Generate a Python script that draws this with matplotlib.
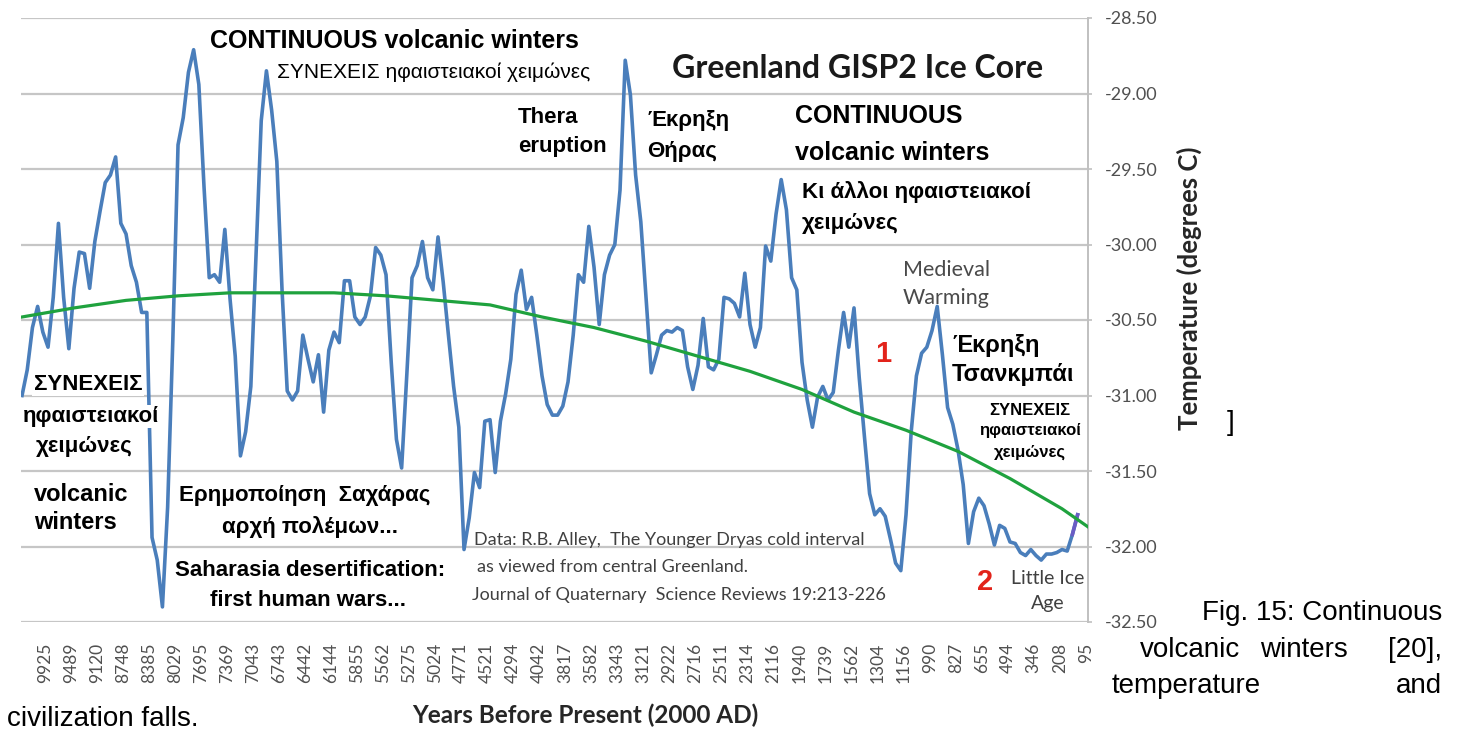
import numpy as np
import matplotlib
matplotlib.use("Agg")
import matplotlib.pyplot as plt

W, H = 1459, 731

# ---------------- data ----------------
temperature = [
    -31.00, -30.83, -30.55, -30.41, -30.58, -30.68, -30.35, -29.86, -30.35, -30.69,
    -30.29, -30.05, -30.06, -30.29, -29.98, -29.78, -29.59, -29.54, -29.42, -29.86,
    -29.93, -30.14, -30.25, -30.45, -30.45, -31.94, -32.09, -32.40, -31.74, -30.63,
    -29.34, -29.16, -28.86, -28.71, -28.94, -29.62, -30.22, -30.20, -30.25, -29.90,
    -30.36, -30.74, -31.40, -31.24, -30.94, -30.07, -29.18, -28.85, -29.11, -29.45,
    -30.30, -30.97, -31.03, -30.97, -30.60, -30.76, -30.91, -30.73, -31.11, -30.70,
    -30.58, -30.65, -30.24, -30.24, -30.48, -30.53, -30.48, -30.34, -30.02, -30.07,
    -30.20, -30.78, -31.29, -31.48, -30.86, -30.22, -30.14, -29.98, -30.22, -30.30,
    -29.95, -30.25, -30.60, -30.94, -31.21, -32.02, -31.81, -31.51, -31.61, -31.17,
    -31.16, -31.51, -31.17, -30.99, -30.76, -30.33, -30.17, -30.43, -30.35, -30.60,
    -30.87, -31.06, -31.13, -31.13, -31.07, -30.91, -30.60, -30.20, -30.25, -29.88,
    -30.15, -30.53, -30.20, -30.07, -30.00, -29.64, -28.78, -29.01, -29.54, -29.85,
    -30.35, -30.85, -30.73, -30.60, -30.57, -30.58, -30.55, -30.57, -30.81, -30.96,
    -30.80, -30.49, -30.81, -30.83, -30.76, -30.35, -30.36, -30.39, -30.48, -30.19,
    -30.53, -30.68, -30.55, -30.01, -30.11, -29.80, -29.57, -29.77, -30.22, -30.30,
    -30.78, -31.03, -31.21, -31.01, -30.94, -31.03, -30.98, -30.70, -30.45, -30.68,
    -30.42, -30.88, -31.27, -31.65, -31.79, -31.75, -31.80, -31.95, -32.11, -32.16,
    -31.79, -31.24, -30.87, -30.72, -30.68, -30.57, -30.41, -30.73, -31.08, -31.19,
    -31.36, -31.59, -31.98, -31.77, -31.68, -31.73, -31.85, -31.99, -31.86, -31.88,
    -31.97, -31.98, -32.04, -32.06, -32.02, -32.06, -32.09, -32.05, -32.05, -32.04,
    -32.02, -32.03, -31.92, -31.79,
]

trend_index = [0, 10, 20, 30, 40, 50, 60, 70, 80, 90, 100, 110, 120, 130, 140,
               150, 160, 170, 180, 190, 200, 205]
trend_values = [-30.48, -30.42, -30.37, -30.34, -30.32, -30.32, -30.32, -30.34,
                -30.37, -30.40, -30.48, -30.55, -30.64, -30.74, -30.84, -30.96,
                -31.11, -31.23, -31.37, -31.55, -31.75, -31.87]

year_labels = ['9925', '9489', '9120', '8748', '8385', '8029', '7695', '7369',
               '7043', '6743', '6442', '6144', '5855', '5562', '5275', '5024',
               '4771', '4521', '4294', '4042', '3817', '3582', '3343', '3121',
               '2922', '2716', '2511', '2314', '2116', '1940', '1739', '1562',
               '1304', '1156', '990', '827', '655', '494', '346', '208', '95']

y_ticks = [-32.5, -32.0, -31.5, -31.0, -30.5, -30.0, -29.5, -29.0, -28.5]

# ---------------- figure ----------------
fig = plt.figure(figsize=(W / 100, H / 100), dpi=100)
ax = fig.add_axes([21 / W, 1 - 622 / H, (1088 - 21) / W, (622 - 18) / H])

n = len(temperature)
xs = np.arange(n)
ax.plot(xs, temperature, color='#4a7ebb', lw=2.6, zorder=3,
        solid_joinstyle='round')
ax.plot(xs[-2:], temperature[-2:], color='#6a5cc4', lw=2.6, zorder=3)
ax.plot(trend_index, trend_values, color='#1fa23e', lw=2.3, zorder=4)

ax.set_ylim(-32.5, -28.5)
ax.set_xlim(-0.2, 205.0)
ax.set_yticks(y_ticks)
ax.set_yticklabels(['%.2f' % v for v in y_ticks])
ax.yaxis.tick_right()
ax.grid(axis='y', color='#c6c6c6', lw=1.6, zorder=0)
for s in ['left', 'top', 'bottom']:
    ax.spines[s].set_visible(False)
ax.spines['right'].set_color('#c0c0c0')
ax.spines['right'].set_linewidth(1.4)
ax.tick_params(axis='y', direction='out', length=3, width=1.2, color='#c0c0c0',
               pad=9, labelsize=13, labelcolor='#505050')
for t in ax.get_yticklabels():
    t.set_family('Lato')

tick_pos = 4.35 + 5.006 * np.arange(len(year_labels))
ax.set_xticks(tick_pos)
ax.set_xticklabels(year_labels, rotation=90, family='Lato', fontsize=12.5,
                   color='#505050')
ax.tick_params(axis='x', length=0, pad=15)


def T(x, y, s, **kw):
    kw.setdefault('va', 'baseline')
    fig.text(x / W, 1 - y / H, s, **kw)


GR = ['Liberation Sans', 'DejaVu Sans']
LA = ['Lato', 'DejaVu Sans']

# axis titles
T(585, 723, 'Years Before Present (2000 AD)', family=LA, fontsize=17.5,
  fontweight='bold', ha='center', color='#262626')
fig.text(1189 / W, 1 - 288 / H, 'Temperature (degrees C)', family=LA,
         fontsize=18.5, fontweight='bold', rotation=90, ha='center',
         va='center', color='#262626')

# annotations
T(210, 48, 'CONTINUOUS volcanic winters', family=GR, fontsize=18, fontweight='bold')
T(277, 78, 'ΣΥΝΕΧΕΙΣ ηφαιστειακοί χειμώνες', family=GR, fontsize=15)
T(672, 78, 'Greenland GISP2 Ice Core', family=LA, fontsize=23, fontweight='bold',
  color='#1a1a1a')
T(518, 123, 'Thera', family=GR, fontsize=16, fontweight='bold')
T(518, 152, 'eruption', family=GR, fontsize=16, fontweight='bold')
T(647, 126, 'Έκρηξη', family=GR, fontsize=16, fontweight='bold')
T(647, 157, 'Θήρας', family=GR, fontsize=16, fontweight='bold')
T(795, 123, 'CONTINUOUS', family=GR, fontsize=18, fontweight='bold')
T(795, 160, 'volcanic winters', family=GR, fontsize=18, fontweight='bold')
T(802, 198, 'Κι άλλοι ηφαιστειακοί', family=GR, fontsize=16, fontweight='bold')
T(802, 229, 'χειμώνες', family=GR, fontsize=16, fontweight='bold')
T(903, 276, 'Medieval', family=LA, fontsize=15.5, color='#4a4a4a')
T(903, 304, 'Warming', family=LA, fontsize=15.5, color='#4a4a4a')
T(875, 362, '1', family=GR, fontsize=21, fontweight='bold', color='#e2231a')
T(952, 352, 'Έκρηξη', family=GR, fontsize=17, fontweight='bold')
T(952, 381, 'Τσανκμπάι', family=GR, fontsize=17, fontweight='bold')
T(1030, 415, 'ΣΥΝΕΧΕΙΣ', family=GR, fontsize=12, fontweight='bold', ha='center')
T(1030, 435, 'ηφαιστειακοί', family=GR, fontsize=12, fontweight='bold', ha='center')
T(1030, 457, 'χειμώνες', family=GR, fontsize=12, fontweight='bold', ha='center')
T(977, 590, '2', family=GR, fontsize=21, fontweight='bold', color='#e2231a')
T(1048, 584, 'Little Ice', family=LA, fontsize=14, ha='center', color='#404040')
T(1048, 609, 'Age', family=LA, fontsize=14, ha='center', color='#404040')

T(88, 390, 'ΣΥΝΕΧΕΙΣ', family=GR, fontsize=16, fontweight='bold', ha='center',
  bbox=dict(fc='white', ec='none', pad=1))
T(91, 422, 'ηφαιστειακοί', family=GR, fontsize=16, fontweight='bold', ha='center',
  bbox=dict(fc='white', ec='none', pad=1))
T(84, 452, 'χειμώνες', family=GR, fontsize=16, fontweight='bold', ha='center',
  bbox=dict(fc='white', ec='none', pad=1))
T(34, 501, 'volcanic', family=GR, fontsize=17, fontweight='bold')
T(34, 529, 'winters', family=GR, fontsize=17, fontweight='bold')
T(305, 501, 'Ερημοποίηση  Σαχάρας', family=GR, fontsize=16, fontweight='bold', ha='center')
T(310, 533, 'αρχή πολέμων...', family=GR, fontsize=16, fontweight='bold', ha='center')
T(310, 576, 'Saharasia desertification:', family=GR, fontsize=16, fontweight='bold',
  ha='center')
T(308, 606, 'first human wars...', family=GR, fontsize=16, fontweight='bold', ha='center')

T(474, 545, 'Data: R.B. Alley,  The Younger Dryas cold interval', family=LA,
  fontsize=13, color='#404040')
T(477, 572, 'as viewed from central Greenland.', family=LA, fontsize=13,
  color='#404040')
T(472, 600, 'Journal of Quaternary  Science Reviews 19:213-226', family=LA,
  fontsize=13, color='#404040')

# caption text around the figure
CAP = dict(family=['Liberation Sans', 'DejaVu Sans'], fontsize=20, color='black')
T(1227, 430, ']', **CAP)
T(1442, 620, 'Fig. 15: Continuous', ha='right', **CAP)
T(1140, 657, 'volcanic', **CAP)
T(1304, 657, 'winters', ha='center', **CAP)
T(1442, 657, '[20],', ha='right', **CAP)
T(1112, 693, 'temperature', **CAP)
T(1442, 693, 'and', ha='right', **CAP)
T(7, 726, 'civilization falls.', **CAP)

fig.savefig('out.png', dpi=100)
